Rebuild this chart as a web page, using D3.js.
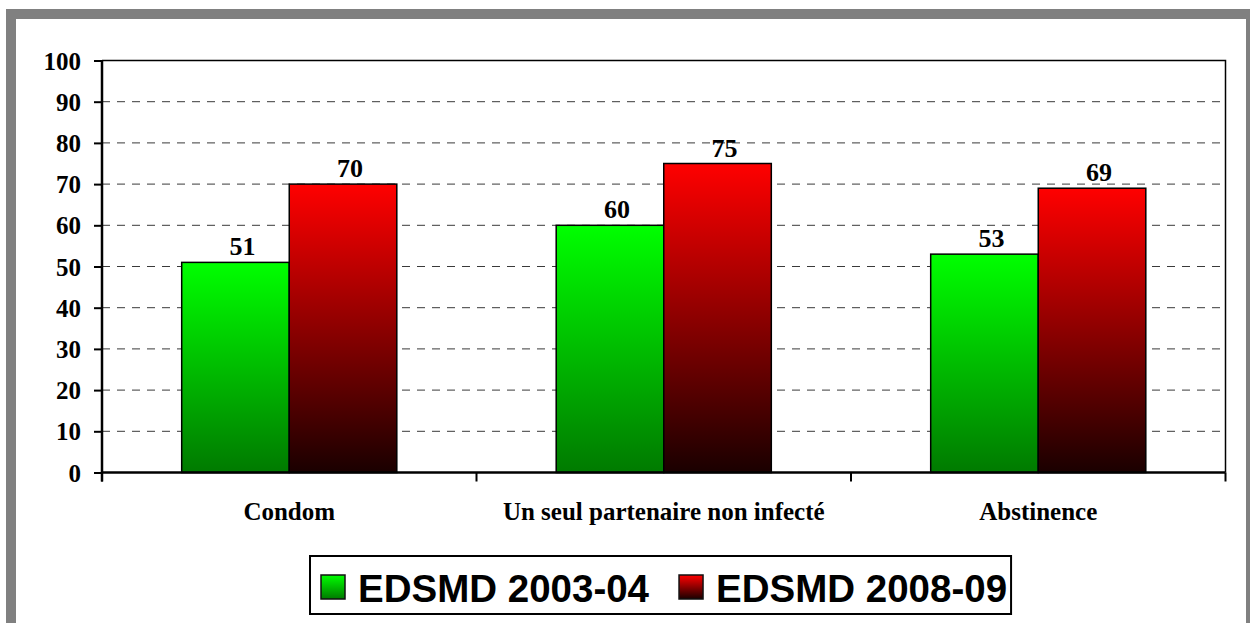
<!DOCTYPE html>
<html>
<head>
<meta charset="utf-8">
<script src="https://cdn.jsdelivr.net/npm/d3@7"></script>
<style>
  html, body { margin: 0; padding: 0; background: #fff; }
  svg { display: block; }
</style>
</head>
<body>
<svg id="chart" width="1250" height="623"></svg>
<script>
// Chart data
const categories = ["Condom", "Un seul partenaire non infecté", "Abstinence"];
const seriesNames = ["EDSMD 2003-04", "EDSMD 2008-09"];
const values2003 = [51, 60, 53];
const values2008 = [70, 75, 69];
const yTicks = [0, 10, 20, 30, 40, 50, 60, 70, 80, 90, 100];

const seriesValues = [values2003, values2008];
const rows = categories.map((c, i) => ({
  category: c,
  bars: seriesNames.map((s, j) => ({ series: s, value: seriesValues[j][i] }))
}));

const svg = d3.select("#chart");
const W = 1250, H = 623;

// Gradients for the two series
const defs = svg.append("defs");
const gradStops = [
  { id: "gGreen", top: "#00ff00", bottom: "#007a00" },
  { id: "gRed", top: "#ff0000", bottom: "#1a0000" }
];
gradStops.forEach(g => {
  const lg = defs.append("linearGradient")
    .attr("id", g.id).attr("x1", 0).attr("y1", 0).attr("x2", 0).attr("y2", 1);
  lg.append("stop").attr("offset", "0%").attr("stop-color", g.top);
  lg.append("stop").attr("offset", "100%").attr("stop-color", g.bottom);
});
const fillFor = d3.scaleOrdinal().domain(seriesNames).range(["url(#gGreen)", "url(#gRed)"]);

// Frame
svg.append("rect").attr("x", 0).attr("y", 0).attr("width", W).attr("height", H).attr("fill", "#fff");
svg.append("rect").attr("x", 11).attr("y", 14).attr("width", 1250).attr("height", 700)
  .attr("fill", "#fff").attr("stroke", "#808080").attr("stroke-width", 10);
svg.append("rect").attr("x", 1246).attr("y", 9).attr("width", 4).attr("height", H).attr("fill", "#808080");

// Plot geometry
const plotLeft = 102, plotRight = 1225.5, plotTop = 60.5, plotBottom = 472.5;

const y = d3.scaleLinear().domain([0, 100]).range([plotBottom, plotTop]);
const x0 = d3.scaleBand().domain(categories).range([plotLeft, plotRight])
  .paddingInner(0.4256).paddingOuter(0.2128);
const x1 = d3.scaleBand().domain(seriesNames).range([0, x0.bandwidth()]);

const serif = "'Liberation Serif', 'Times New Roman', serif";
const sans = "'Liberation Sans', Arial, sans-serif";

// Gridlines (dashed)
svg.append("g").selectAll("line")
  .data(yTicks.filter(t => t > 0 && t < 100))
  .join("line")
  .attr("x1", plotLeft).attr("x2", plotRight)
  .attr("y1", d => y(d)).attr("y2", d => y(d))
  .attr("stroke", "#3a3a3a").attr("stroke-width", 1)
  .attr("stroke-dasharray", "8,7");

// Plot border (top and right)
svg.append("path")
  .attr("d", `M${plotLeft},${plotTop}H${plotRight}V${plotBottom}`)
  .attr("fill", "none").attr("stroke", "#000").attr("stroke-width", 1.5);

// Bars
const groups = svg.append("g").selectAll("g")
  .data(rows).join("g")
  .attr("transform", d => `translate(${x0(d.category)},0)`);

groups.selectAll("rect")
  .data(d => d.bars).join("rect")
  .attr("x", d => x1(d.series))
  .attr("y", d => y(d.value))
  .attr("width", x1.bandwidth())
  .attr("height", d => y(0) - y(d.value))
  .attr("fill", d => fillFor(d.series))
  .attr("stroke", "#000").attr("stroke-width", 1.5);

// Value labels
groups.selectAll("text")
  .data(d => d.bars).join("text")
  .attr("x", d => x1(d.series) + x1.bandwidth() / 2 + 7)
  .attr("y", d => y(d.value) - 7)
  .attr("text-anchor", "middle")
  .attr("font-family", serif).attr("font-weight", "bold").attr("font-size", 26)
  .attr("fill", "#000")
  .text(d => d.value);

// Y axis
const yAxis = d3.axisLeft(y).tickValues(yTicks).tickSize(8).tickPadding(13);
const gy = svg.append("g").attr("transform", `translate(${plotLeft},0)`).call(yAxis);
gy.select(".domain").attr("stroke", "#000").attr("stroke-width", 2.5)
  .attr("d", `M0,${plotTop}V${plotBottom + 9}`);
gy.selectAll(".tick line").attr("stroke", "#000").attr("stroke-width", 2);
gy.selectAll(".tick text")
  .attr("font-family", serif).attr("font-weight", "bold").attr("font-size", 25)
  .attr("fill", "#000").attr("dy", "0.34em");

// X axis line with category boundary ticks
const step = x0.step();
const boundaries = d3.range(categories.length + 1).map(i => plotLeft + i * step);
svg.append("line").attr("x1", plotLeft).attr("x2", plotRight).attr("y1", plotBottom).attr("y2", plotBottom)
  .attr("stroke", "#000").attr("stroke-width", 2.5);
svg.append("g").selectAll("line").data(boundaries).join("line")
  .attr("x1", d => d).attr("x2", d => d)
  .attr("y1", plotBottom).attr("y2", plotBottom + 9)
  .attr("stroke", "#000").attr("stroke-width", 2);

// Category labels
svg.append("g").selectAll("text").data(categories).join("text")
  .attr("x", d => x0(d) + x0.bandwidth() / 2)
  .attr("y", 520)
  .attr("text-anchor", "middle")
  .attr("font-family", serif).attr("font-weight", "bold").attr("font-size", 25)
  .attr("fill", "#000")
  .text(d => d);

// Legend
const legend = svg.append("g");
const legBox = legend.append("rect")
  .attr("x", 310).attr("y", 556).attr("height", 58)
  .attr("fill", "#fff").attr("stroke", "#000").attr("stroke-width", 2);
let lx = 321;
seriesNames.forEach((s, i) => {
  legend.append("rect")
    .attr("x", lx).attr("y", 575).attr("width", 24).attr("height", 24)
    .attr("fill", fillFor(s)).attr("stroke", "#111").attr("stroke-width", 1.5);
  const t = legend.append("text")
    .attr("x", lx + 37).attr("y", 602)
    .attr("font-family", sans).attr("font-weight", "bold").attr("font-size", 38.5)
    .attr("fill", "#000")
    .text(s);
  const w = t.node().getComputedTextLength();
  lx = lx + 37 + w + (i < seriesNames.length - 1 ? 30 : 0);
});
legBox.attr("width", lx + 4 - 310);
</script>
</body>
</html>
